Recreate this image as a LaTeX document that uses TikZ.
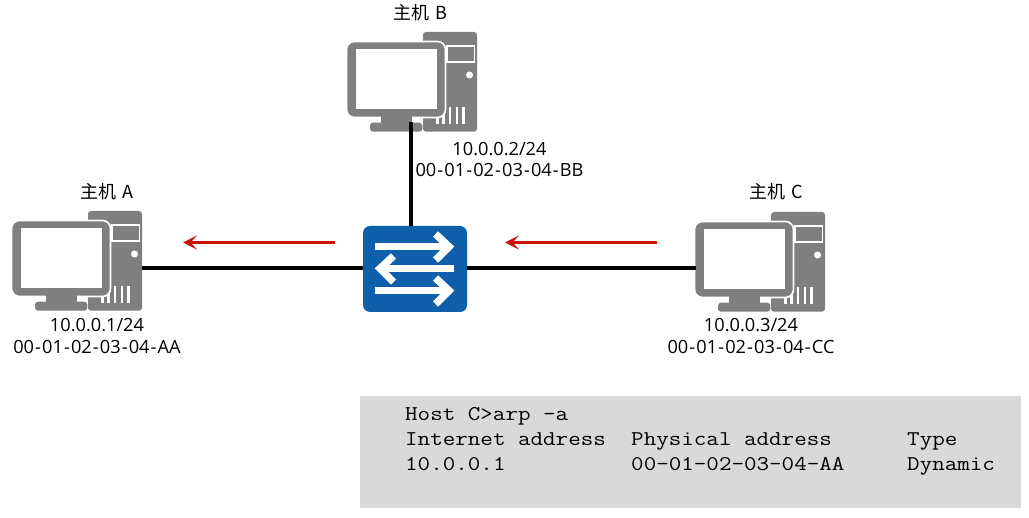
\documentclass[tikz,border=0pt]{standalone}
\usepackage{fontspec}
\usetikzlibrary{arrows.meta}
\setmainfont{Open Sans}
\newfontfamily\cjk{Noto Sans CJK SC}
\newfontfamily\cons{Latin Modern Mono}[FakeStretch=1.16]
\definecolor{hostgray}{HTML}{7F7F7F}
\definecolor{switchblue}{HTML}{0F5FAB}
\definecolor{flowred}{HTML}{C8140A}
\definecolor{panelgray}{HTML}{D9D9D9}
% hyphen with a little more air, for the MAC addresses
\newcommand{\hy}{\kern1.1pt-\kern1.1pt}
\tikzset{
  x=1pt, y=-1pt,
  host/.pic={
    % tower with drive bay, power button and vents
    \fill[hostgray, rounded corners=3] (76,0) rectangle (130,99.7);
    \draw[white, line width=1.5] (100,14) rectangle (127.5,30);
    \fill[white] (122.5,43) circle (3.5);
    \foreach \vx in {90.5,96.5,103,110,116.5}
      \fill[white] (\vx-1.1,75) rectangle (\vx+1.1,92.5);
    % monitor, stand and foot
    \draw[white, line width=1.6, fill=hostgray, rounded corners=8] (-0.5,9.5) rectangle (98.5,85.5);
    \fill[white] (9.2,17.5) rectangle (89.8,77);
    \fill[hostgray] (33.5,84.5) rectangle (65,92);
    \fill[hostgray, rounded corners=3] (23,90.7) rectangle (75.3,99.7);
  },
  wire/.style={line width=3.1, black},
  trafficarrow/.style={draw=flowred, line width=2.9pt, -{Stealth[length=14pt, width=14pt, inset=6.5pt]}},
  label/.style={font=\fontsize{18.2}{20}\selectfont, text=black, inner sep=0},
  hostname/.style={font=\cjk\fontsize{18}{20}\selectfont, text=black, inner sep=0},
  console/.style={font=\cons\fontsize{21}{24}\selectfont, text=black, inner sep=0, anchor=base west},
  swarrow/.style={white, line width=7.4pt, line join=miter},
}
\begin{document}
\begin{tikzpicture}
\useasboundingbox (0,0) rectangle (1029,518);

% hosts
\pic at (12,211) {host};
\pic at (347,32) {host};
\pic at (695,212) {host};
\coordinate (portA) at (142,268);
\coordinate (portB) at (411,122);
\coordinate (portC) at (696,268);

% switch
\node[fill=switchblue, rounded corners=7, minimum width=104pt, minimum height=86pt, inner sep=0] (sw) at (415,269) {};
\draw[swarrow] (375,246.7) -- (449,246.7);
\draw[swarrow] (435.5,234) -- (449,246.7) -- (435.5,260);
\draw[swarrow] (454,268.5) -- (381,268.5);
\draw[swarrow] (393.5,256) -- (380,268.5) -- (393.5,282);
\draw[swarrow] (375,290.7) -- (449,290.7);
\draw[swarrow] (435.5,278) -- (449,290.7) -- (435.5,304);

% links
\draw[wire] (portA) -- (sw.west |- portA);
\draw[wire] (portC) -- (sw.east |- portC);
\draw[wire] (portB) -- (portB |- sw.north);

% traffic direction
\coordinate (flowA1) at (335,242.5);
\coordinate (flowA2) at (183,242.5);
\coordinate (flowC1) at (657,242.5);
\coordinate (flowC2) at (505,242.5);
\draw[trafficarrow] (flowA1) -- (flowA2);
\draw[trafficarrow] (flowC1) -- (flowC2);

% host labels
\node[hostname] (nameB) at (420.5,13) {主机\,\,B};
\node[hostname] (nameA) at (107,192) {主机\,\,A};
\node[hostname] (nameC) at (776.5,192) {主机\,\,C};
\node[label] (ipB) at (499.5,149) {10.0.0.2/24};
\node[label] (macB) at (499.5,170) {00\hy 01\hy 02\hy 03\hy 04\hy BB};
\node[label] (ipA) at (97,325) {10.0.0.1/24};
\node[label] (macA) at (97,347) {00\hy 01\hy 02\hy 03\hy 04\hy AA};
\node[label] (ipC) at (751,325) {10.0.0.3/24};
\node[label] (macC) at (751,347) {00\hy 01\hy 02\hy 03\hy 04\hy CC};

% ARP table
\node[fill=panelgray, minimum width=661pt, minimum height=112pt, inner sep=0, anchor=north west] (panel) at (360,396) {};
\node[console] (cmd) at (405,421) {Host C>arp -a};
\node[console] (head1) at (405,446) {Internet address};
\node[console] (head2) at (631,446) {Physical address};
\node[console] (head3) at (907,446) {Type};
\node[console] (row1) at (405,471) {10.0.0.1};
\node[console] (row2) at (631,471) {00-01-02-03-04-AA};
\node[console] (row3) at (907,471) {Dynamic};
\end{tikzpicture}
\end{document}
